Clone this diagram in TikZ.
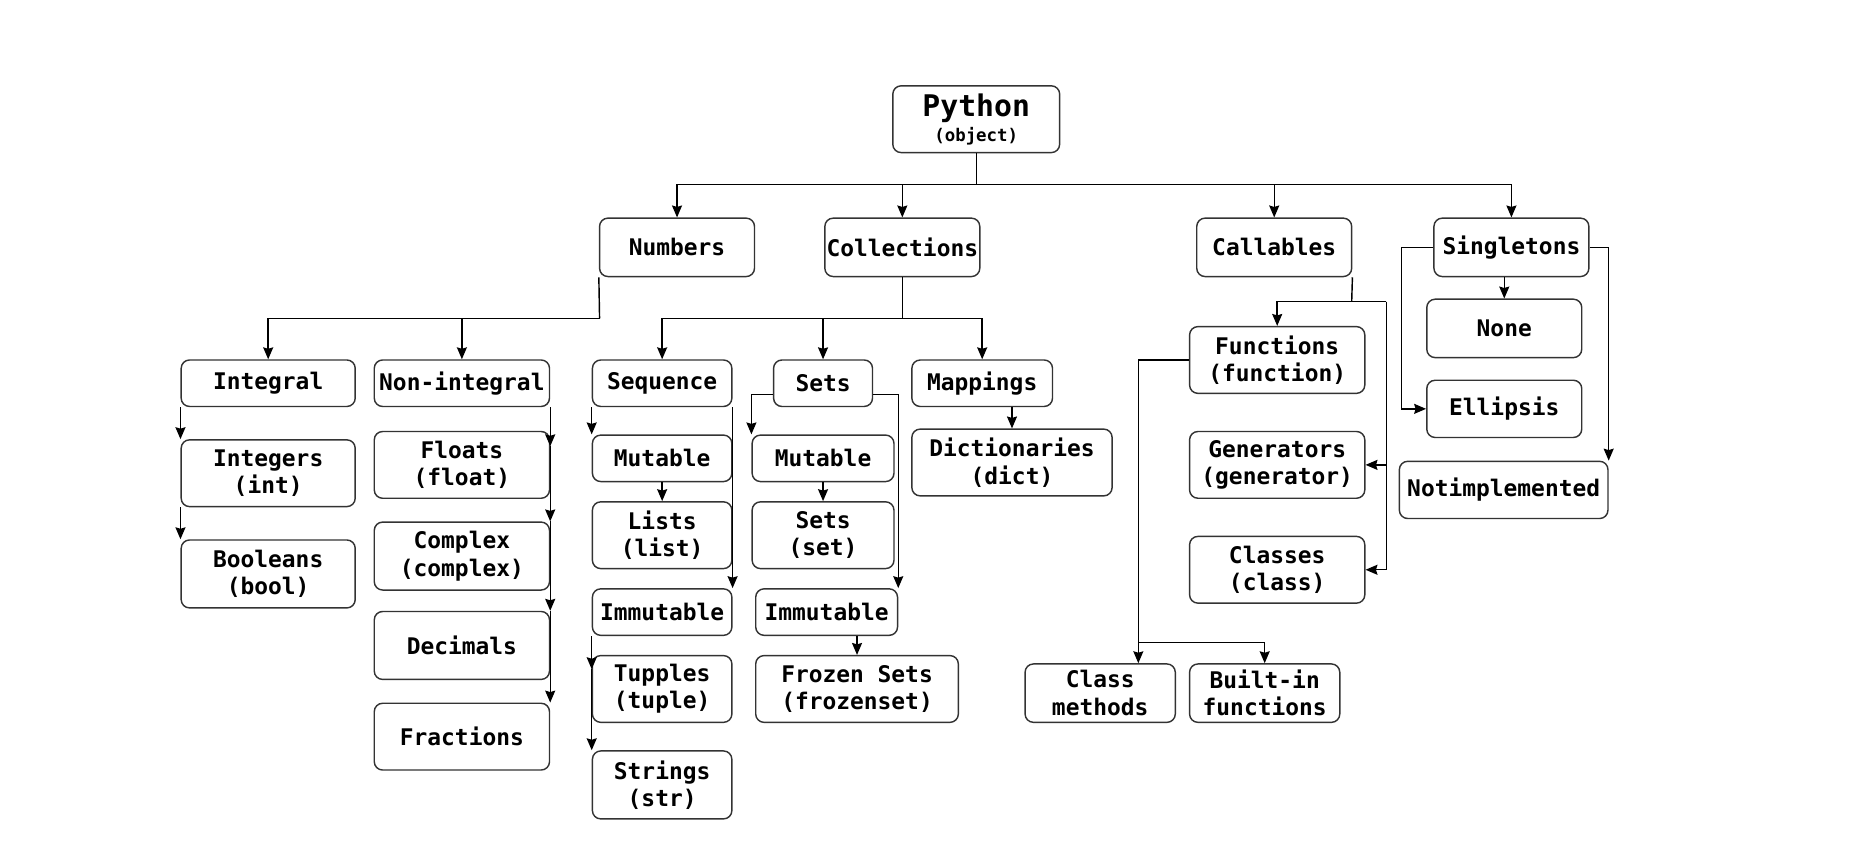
\documentclass[tikz,border=0pt]{standalone}
\usepackage{fontspec}
\setmonofont{DejaVu Sans Mono}
\usetikzlibrary{arrows.meta}
\tikzset{
  box/.style={draw=black!80, line width=0.6pt, rounded corners=3.5pt, inner sep=0pt, align=center,
    font=\ttfamily\bfseries\fontsize{9.6}{11.5}\selectfont},
  arr/.style={-{Stealth[length=5pt,width=4.2pt,inset=0.6pt]}},
  conn/.style={line width=0.6pt, black}
}
\begin{document}
\begin{tikzpicture}[x=0.5pt,y=-0.5pt]
\useasboundingbox[fill=white] (0,0) rectangle (1568,725);
% top
\node[box, minimum width=70pt, minimum height=28pt] (python) at (819,100)
  {{\fontsize{12.5}{14}\selectfont Python}\\[-1pt]{\fontsize{7.3}{9}\selectfont (object)}};
\node[box, minimum width=65pt, minimum height=24.5pt] (numbers) at (568,207.5) {Numbers};
\node[box, minimum width=65pt, minimum height=24.5pt] (coll) at (757,207.5) {Collections};
\node[box, minimum width=65pt, minimum height=24.5pt] (call) at (1069,207.5) {Callables};
\node[box, minimum width=65pt, minimum height=24.5pt] (single) at (1268,207.5) {Singletons};
% row 2
\node[box, minimum width=73pt, minimum height=19.5pt] (integral) at (225,321.5) {Integral};
\node[box, minimum width=73.5pt, minimum height=19.5pt] (nonint) at (387.5,321.5) {Non-integral};
\node[box, minimum width=58.5pt, minimum height=19.5pt] (seq) at (555.5,321.5) {Sequence};
\node[box, minimum width=41.5pt, minimum height=19.5pt] (sets) at (690.5,321.5) {Sets};
\node[box, minimum width=59pt, minimum height=19.5pt] (map) at (824,321.5) {Mappings};
% integral column
\node[box, minimum width=73pt, minimum height=28pt] (integers) at (225,397) {Integers\\(int)};
\node[box, minimum width=73pt, minimum height=28.5pt] (booleans) at (225,481.5) {Booleans\\(bool)};
% non-integral column
\node[box, minimum width=73.5pt, minimum height=28pt] (floats) at (387.5,390) {Floats\\(float)};
\node[box, minimum width=73.5pt, minimum height=28.5pt] (complex) at (387.5,466.5) {Complex\\(complex)};
\node[box, minimum width=73.5pt, minimum height=28.5pt] (decimals) at (387.5,541.5) {Decimals};
\node[box, minimum width=73.5pt, minimum height=28pt] (fractions) at (387.5,618) {Fractions};
% sequence column
\node[box, minimum width=58.5pt, minimum height=19.5pt] (mut1) at (555.5,384.5) {Mutable};
\node[box, minimum width=58.5pt, minimum height=28pt] (lists) at (555.5,449) {Lists\\(list)};
\node[box, minimum width=58.5pt, minimum height=19.5pt] (immut1) at (555.5,513.5) {Immutable};
\node[box, minimum width=58.5pt, minimum height=28pt] (tuples) at (555.5,578) {Tupples\\(tuple)};
\node[box, minimum width=58.5pt, minimum height=28.5pt] (strings) at (555.5,658.5) {Strings\\(str)};
% sets column
\node[box, minimum width=59.5pt, minimum height=19.5pt] (mut2) at (690.5,384.5) {Mutable};
\node[box, minimum width=59.5pt, minimum height=28pt] (setset) at (690.5,449) {Sets\\(set)};
\node[box, minimum width=59.5pt, minimum height=19.5pt] (immut2) at (693.5,513.5) {Immutable};
\node[box, minimum width=85pt, minimum height=28pt] (frozen) at (719,578) {Frozen Sets\\(frozenset)};
% mappings
\node[box, minimum width=84pt, minimum height=28pt] (dict) at (849,388) {Dictionaries\\(dict)};
% callables
\node[box, minimum width=73.5pt, minimum height=28pt] (func) at (1071.5,302) {Functions\\(function)};
\node[box, minimum width=73.5pt, minimum height=28pt] (gen) at (1071.5,390) {Generators\\(generator)};
\node[box, minimum width=73.5pt, minimum height=28pt] (classes) at (1071.5,478) {Classes\\(class)};
\node[box, minimum width=63pt, minimum height=24.5pt] (classm) at (923,581.5) {Class\\methods};
\node[box, minimum width=63pt, minimum height=24.5pt] (builtin) at (1061,581.5) {Built-in\\functions};
% singletons
\node[box, minimum width=65pt, minimum height=24.5pt] (none) at (1262,275.5) {None};
\node[box, minimum width=65pt, minimum height=24pt] (ellipsis) at (1262,343) {Ellipsis};
\node[box, minimum width=87.5pt, minimum height=24pt] (notimpl) at (1261.5,411) {Notimplemented};

\begin{scope}[conn]
% python bus
\coordinate (pbus) at (819,155);
\draw (python.south) -- (pbus);
\draw[arr] (pbus) -| (numbers.north);
\draw[arr] (pbus) -| (coll.north);
\draw[arr] (pbus) -| (call.north);
\draw[arr] (pbus) -| (single.north);
% numbers
\coordinate (nbus) at (503,267);
\draw (numbers.south west) -- (nbus);
\draw[arr] (nbus) -| (integral.north);
\draw[arr] (nbus) -| (nonint.north);
% collections
\coordinate (cbus) at (757,267);
\draw (coll.south) -- (cbus);
\draw[arr] (cbus) -| (seq.north);
\draw[arr] (cbus) -| (sets.north);
\draw[arr] (cbus) -| (map.north);
% integral
\draw[arr] (integral.south west) -- (integers.north west);
\draw[arr] (integers.south west) -- (booleans.north west);
% non-integral
\draw[arr] (nonint.south east) -- ([yshift=-6.5pt]floats.north east);
\draw[arr] ([yshift=-6.5pt]floats.north east) -- (complex.north east);
\draw[arr] (complex.north east) -- (decimals.north east);
\draw[arr] (decimals.north east) -- (fractions.north east);
% sequence
\draw[arr] (seq.south west) -- (mut1.north west);
\draw[arr] (mut1.south) -- (lists.north);
\draw[arr] (seq.south east) -- (immut1.north east);
\draw[arr] (immut1.south west) -- ([yshift=-6pt]tuples.north west);
\draw[arr] ([yshift=-6pt]tuples.north west) -- (strings.north west);
% sets
\draw[arr] ([yshift=-4.75pt]sets.west) -| (mut2.north west);
\draw[arr] ([yshift=-4.75pt]sets.east) -| (immut2.north east);
\draw[arr] (mut2.south) -- (setset.north);
\draw[arr] (immut2.south -| frozen.north) -- (frozen.north);
% mappings
\draw[arr] (map.south -| dict.north) -- (dict.north);
% callables
\coordinate (kbus) at (1134,253);
\coordinate (kright) at (1163,253);
\draw (call.south east) -- (kbus);
\draw[arr] (kbus) -| (func.north);
\draw (kbus) -- (kright);
\draw[arr] (kright) |- (gen.east);
\draw[arr] (kright) |- (classes.east);
% functions
\coordinate (fcorner) at (955,302);
\coordinate (fbus) at (955,539);
\draw (func.west) -- (fcorner);
\draw[arr] (fcorner) -- (fcorner |- classm.north);
\draw[arr] (fbus) -| (builtin.north);
% singletons
\draw[arr] (single.south -| none.north) -- (none.north);
\coordinate (sleft) at (1176,207.5);
\draw (single.west) -- (sleft);
\draw[arr] (sleft) |- (ellipsis.west);
\draw[arr] (single.east) -| (notimpl.north east);
\end{scope}
\end{tikzpicture}
\end{document}
